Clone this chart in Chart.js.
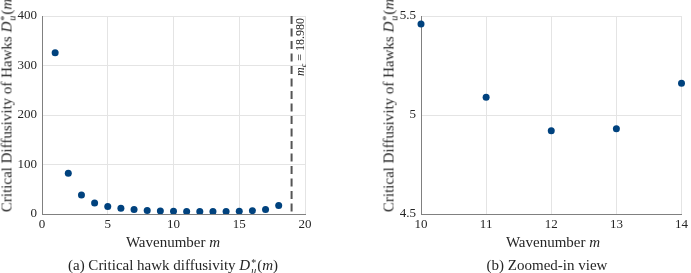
<!DOCTYPE html>
<html>
<head>
<meta charset="utf-8">
<script src="https://cdn.jsdelivr.net/npm/chart.js@4"></script>
<style>
  body { margin: 0; background: #fff; font-family: "Liberation Serif", serif; color: #262626; }
  #page { position: relative; width: 691px; height: 273px; overflow: hidden; }
  .panel { position: absolute; top: 0; height: 273px; }
  .lbl { position: absolute; white-space: nowrap; font-size: 15px; line-height: 18px; color: #262626; }
  .ytitle { transform: translate(-50%, -50%) rotate(-90deg); }
  .ctr { transform: translate(-50%, -50%); }
  .ss { display: inline-block; vertical-align: -4px; line-height: 8px; font-size: 10px; margin-left: 1px; margin-right: 1px; }
  .ss span { display: block; }
</style>
</head>
<body>
<div id="page">
  <div class="panel" style="left:0;width:345px"><canvas id="chartA" width="345" height="273"></canvas></div>
  <div class="panel" style="left:345px;width:346px"><canvas id="chartB" width="346" height="273"></canvas></div>

  <div class="lbl ytitle" style="left:7px;top:103px">Critical Diffusivity of Hawks <i>D</i><span class="ss"><span>*</span><span><i>u</i></span></span>(<i>m</i>)</div>
  <div class="lbl ytitle" style="left:389px;top:103px">Critical Diffusivity of Hawks <i>D</i><span class="ss"><span>*</span><span><i>u</i></span></span>(<i>m</i>)</div>

  <div class="lbl ctr" style="left:173px;top:242px">Wavenumber <i>m</i></div>
  <div class="lbl ctr" style="left:553px;top:242px">Wavenumber <i>m</i></div>

  <div class="lbl ctr" style="left:173px;top:265px">(a) Critical hawk diffusivity <i>D</i><span class="ss"><span>*</span><span><i>u</i></span></span>(<i>m</i>)</div>
  <div class="lbl ctr" style="left:547px;top:265px">(b) Zoomed-in view</div>
</div>
<script>
// wavenumbers and critical hawk diffusivity D*_u(m)
const wavenumbers = [1, 2, 3, 4, 5, 6, 7, 8, 9, 10, 11, 12, 13, 14, 15, 16, 17, 18];
const diffusivity = [326, 82.5, 38.5, 22.2, 15.2, 11.4, 8.9, 7.1, 6.1, 5.46, 5.09, 4.92, 4.93, 5.16, 5.75, 6.8, 9.3, 17];
const zoomMin = 10, zoomMax = 14;
const criticalM = 18.98;
const xTicksA = [0, 5, 10, 15, 20];
const yTicksA = [0, 100, 200, 300, 400];
const xTicksB = [10, 11, 12, 13, 14];
const yTicksB = [4.5, 5, 5.5];

const pointColor = "#00427e";
const textColor = "#262626";
const serif = "Liberation Serif";
Chart.defaults.font.family = serif;
const tickFont = { family: serif, size: 13 };

const toPoints = (xs, ys) => xs.map((x, i) => ({ x: x, y: ys[i] }));

const zoomPoints = toPoints(wavenumbers, diffusivity).filter((p) => p.x >= zoomMin && p.x <= zoomMax);

// dashed vertical line at m_c with rotated label
const criticalLine = {
  id: "criticalLine",
  afterDatasetsDraw(chart) {
    const c = chart.ctx;
    const xs = chart.scales.x;
    const area = chart.chartArea;
    const px = xs.getPixelForValue(criticalM);
    c.save();
    c.strokeStyle = "#555555";
    c.lineWidth = 2;
    c.setLineDash([8, 4.5]);
    c.beginPath();
    c.moveTo(px, area.top);
    c.lineTo(px, area.bottom);
    c.stroke();

    c.translate(px + 9, area.top + 2);
    c.rotate(-Math.PI / 2);
    c.fillStyle = textColor;
    c.textBaseline = "middle";
    c.textAlign = "right";
    c.font = "12px " + serif;
    const rest = " = " + criticalM.toFixed(3);
    c.fillText(rest, 0, 0);
    let w = c.measureText(rest).width;
    c.font = "italic 8px " + serif;
    c.fillText("c", -w, 3);
    w += c.measureText("c").width;
    c.font = "italic 12px " + serif;
    c.fillText("m", -w, 0);
    c.restore();
  },
};

function makeScales(xmin, xmax, xticks, ymin, ymax, yticks, yWidth) {
  const grid = { color: "#e4e4e4", drawTicks: false };
  const border = { color: "#808080", width: 1 };
  return {
    x: {
      type: "linear",
      min: xmin,
      max: xmax,
      afterBuildTicks: (s) => { s.ticks = xticks.map((v) => ({ value: v })); },
      afterFit: (s) => { s.height = 20; },
      grid: grid,
      border: border,
      ticks: { font: tickFont, color: textColor, padding: 3, maxRotation: 0, callback: (v) => String(v) },
    },
    y: {
      min: ymin,
      max: ymax,
      afterBuildTicks: (s) => { s.ticks = yticks.map((v) => ({ value: v })); },
      afterFit: (s) => { s.width = yWidth; },
      grid: grid,
      border: border,
      ticks: { font: tickFont, color: textColor, padding: 5, callback: (v) => String(v) },
    },
  };
}

const common = {
  responsive: false,
  animation: false,
  plugins: { legend: { display: false }, tooltip: { enabled: false } },
};

function draw() {
  new Chart(document.getElementById("chartA"), {
    type: "scatter",
    data: {
      datasets: [{
        data: toPoints(wavenumbers, diffusivity),
        backgroundColor: pointColor,
        borderColor: pointColor,
        pointRadius: 3.5,
        borderWidth: 0,
      }],
    },
    options: Object.assign({}, common, {
      layout: { padding: { left: 0, right: 40, top: 16, bottom: 39 } },
      scales: makeScales(0, 20, xTicksA, 0, 400, yTicksA, 42),
    }),
    plugins: [criticalLine],
  });

  new Chart(document.getElementById("chartB"), {
    type: "scatter",
    data: {
      datasets: [{
        data: zoomPoints,
        backgroundColor: pointColor,
        borderColor: pointColor,
        pointRadius: 3.5,
        borderWidth: 0,
        clip: false,
      }],
    },
    options: Object.assign({}, common, {
      layout: { padding: { left: 0, right: 7, top: 16, bottom: 39 } },
      scales: makeScales(zoomMin, zoomMax, xTicksB, 4.5, 5.5, yTicksB, 76),
    }),
  });
}

// make sure the serif font is ready before the canvases draw text
Promise.all([
  document.fonts.load("13px 'Liberation Serif'"),
  document.fonts.load("italic 12px 'Liberation Serif'"),
]).then(draw, draw);
</script>
</body>
</html>
